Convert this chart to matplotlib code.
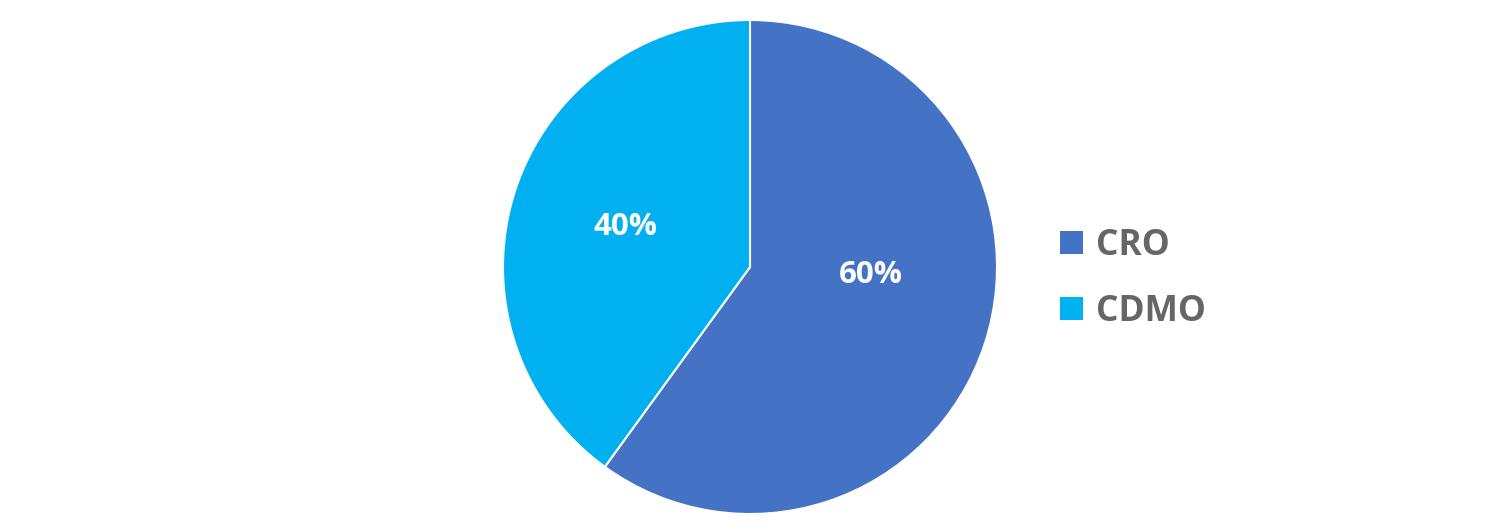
import matplotlib
matplotlib.use("Agg")
import matplotlib.pyplot as plt
from matplotlib.patches import Patch
import numpy as np

categories = ["CRO", "CDMO"]
values = [60, 40]
colors = ["#4472C4", "#00B0F0"]

plt.rcParams['font.family'] = ['Open Sans', 'DejaVu Sans']

fig = plt.figure(figsize=(15, 5.32), dpi=100)
R = 247
cx, cy = 750, 267
ax = fig.add_axes([(cx - R) / 1500, (532 - cy - R) / 532, 2 * R / 1500, 2 * R / 532])
wedges, texts, autotexts = ax.pie(values, colors=colors, startangle=90, counterclock=False,
                                  autopct=lambda p: f"{p:.0f}%", pctdistance=0.53,
                                  wedgeprops=dict(edgecolor="white", linewidth=1.5),
                                  textprops=dict(color="white", fontsize=22.5, fontweight="bold"))
# Excel-like label placement for the larger slice
autotexts[0].set_position((0.49 * np.cos(np.radians(-4)), 0.49 * np.sin(np.radians(-4))))
ax.set_xlim(-1, 1)
ax.set_ylim(-1, 1)
ax.set_aspect('equal')
ax.axis('off')

handles = [Patch(facecolor=c, edgecolor='none') for c in colors]
leg = fig.legend(handles, categories, loc='center left', bbox_to_anchor=(1028 / 1500, 1 - 279 / 532),
                 frameon=False, handlelength=0.65, handleheight=0.65,
                 handletextpad=0.38, labelspacing=0.85,
                 prop=dict(size=25.5, weight='bold'))
for t in leg.get_texts():
    t.set_color("#666666")

fig.savefig("out.png", dpi=100, facecolor="white")
